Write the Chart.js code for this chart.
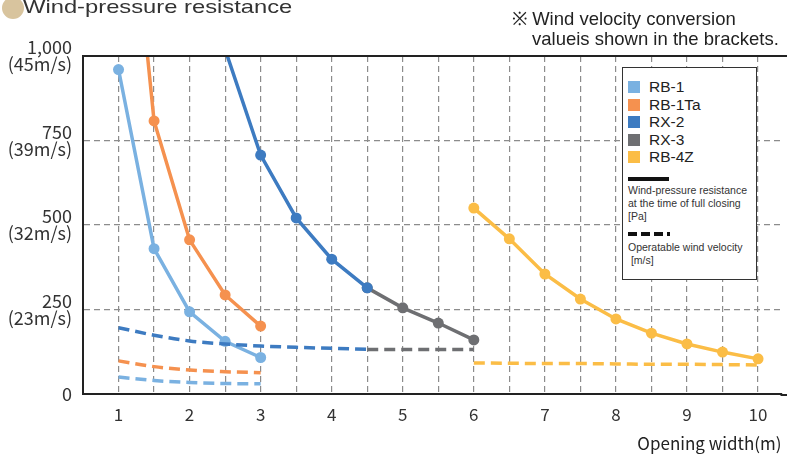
<!DOCTYPE html>
<html>
<head>
<meta charset="utf-8">
<script src="https://cdn.jsdelivr.net/npm/chart.js@4/dist/chart.umd.min.js"></script>
<style>
  body { margin: 0; background: #fff; overflow: hidden; }
  #wrap { position: relative; width: 787px; height: 454px; overflow: hidden; }
  #chart { position: absolute; left: 0; top: 0; }
  .dot { position: absolute; left: 2px; top: -3px; width: 22px; height: 22px; border-radius: 50%; background: #d8c49e; }
  .title { position: absolute; left: 23px; top: -4px; font: 19px "Liberation Sans", Arial, sans-serif; color: #333; white-space: nowrap; transform: scaleX(1.25); transform-origin: left top; }
  .note { position: absolute; font: 18.5px "Liberation Sans", Arial, sans-serif; color: #222; white-space: nowrap; }
  #legend { position: absolute; left: 622px; top: 67px; width: 133px; height: 211px; border: 1px solid #333; background: #fff; font-family: "Liberation Sans", Arial, sans-serif; color: #222; }
  .item { position: absolute; left: 5px; height: 17px; font-size: 15.5px; line-height: 17px; }
  .item span { display: inline-block; width: 12px; height: 12px; margin-right: 9px; vertical-align: -1px; }
  .small { position: absolute; left: 5px; font-size: 10.5px; line-height: 13px; color: #333; }
  .solid { position: absolute; left: 5px; top: 109px; width: 41px; height: 4px; background: #111; }
  .dash { position: absolute; left: 5px; top: 164px; width: 42px; height: 4px; background: repeating-linear-gradient(90deg, #111 0 9px, transparent 9px 13px); }
</style>
</head>
<body>
<div id="wrap">
  <canvas id="chart" width="787" height="454"></canvas>
  <div class="dot"></div>
  <div class="title">Wind-pressure resistance</div>
  <div class="note" style="left:512px; top:5px;">※ Wind velocity conversion</div>
  <div class="note" style="left:532px; top:28px;">valueis shown in the brackets.</div>
  <div id="legend"></div>
</div>
<script>
// opening width (m) and wind-pressure resistance (Pa) / operatable wind velocity line
var rb1Width = [1, 1.5, 2, 2.5, 3];
var rb1Pa = [960, 430, 243, 156, 108];
var rb1Wind = [50, 40, 34, 31, 30];

var rb1TaWidth = [1, 1.5, 2, 2.5, 3];
var rb1TaPa = [1850, 808, 456, 293, 201];
var rb1TaWind = [98, 81, 71, 66, 63];

var rx2Width = [2.5, 3, 3.5, 4, 4.5];
var rx2Pa = [1020, 707, 521, 399, 314];
var rx2WindWidth = [1, 1.5, 2, 2.5, 3, 3.5, 4, 4.5];
var rx2Wind = [196, 174, 157, 148, 142, 138, 135, 132];

var rx3Width = [4.5, 5, 5.5, 6];
var rx3Pa = [314, 255, 210, 160];
var rx3Wind = [132, 132, 132, 132];

var rb4zWidth = [6, 6.5, 7, 7.5, 8, 8.5, 9, 9.5, 10];
var rb4zPa = [550, 459, 355, 281, 222, 180, 148, 124, 104];
var rb4zWind = [92, 91, 90, 90, 89, 88, 88, 87, 86];

var seriesNames = ['RB-1', 'RB-1Ta', 'RX-2', 'RX-3', 'RB-4Z'];
var seriesColors = ['#7ab1e1', '#f5914f', '#3d7bc1', '#6e6f72', '#fbbd46'];

var yTickPa = ['0', '250', '500', '750', '1,000'];
var yTickWind = ['', '(23m/s)', '(32m/s)', '(39m/s)', '(45m/s)'];

function pairs(xs, ys) {
  return xs.map(function(x, i) { return { x: x, y: ys[i] }; });
}

function solidSet(xs, ys, color) {
  return {
    data: pairs(xs, ys),
    borderColor: color,
    backgroundColor: color,
    borderWidth: 3.5,
    pointRadius: 5.5,
    pointBorderWidth: 0,
    tension: 0
  };
}

function dashSet(xs, ys, color) {
  return {
    data: pairs(xs, ys),
    borderColor: color,
    borderWidth: 3.5,
    borderDash: [11, 6],
    pointRadius: 0,
    cubicInterpolationMode: 'monotone'
  };
}

var datasets = [
  dashSet(rb1Width, rb1Wind, seriesColors[0]),
  dashSet(rb1TaWidth, rb1TaWind, seriesColors[1]),
  dashSet(rx2WindWidth, rx2Wind, seriesColors[2]),
  dashSet(rx3Width, rx3Wind, seriesColors[3]),
  dashSet(rb4zWidth, rb4zWind, seriesColors[4]),
  solidSet(rb1Width, rb1Pa, seriesColors[0]),
  solidSet(rb1TaWidth, rb1TaPa, seriesColors[1]),
  solidSet(rx2Width, rx2Pa, seriesColors[2]),
  solidSet(rx3Width, rx3Pa, seriesColors[3]),
  solidSet(rb4zWidth, rb4zPa, seriesColors[4])
];

// top frame line, and bottom line carried on to the page edge
var frameLines = {
  id: 'frameLines',
  afterDraw: function(chart) {
    var ctx = chart.ctx, a = chart.chartArea;
    ctx.save();
    ctx.strokeStyle = '#222';
    ctx.lineWidth = 2;
    ctx.beginPath();
    ctx.moveTo(a.left - 1, a.top);
    ctx.lineTo(a.right + 10, a.top);
    ctx.moveTo(a.right - 1, a.bottom + 1);
    ctx.lineTo(a.right + 10, a.bottom + 1);
    ctx.stroke();
    ctx.restore();
  }
};

var tickFamily = '"Noto Sans CJK JP", "Noto Sans", sans-serif';

new Chart(document.getElementById('chart'), {
  type: 'line',
  data: { datasets: datasets },
  options: {
    responsive: false,
    animation: false,
    layout: { padding: { top: 56, left: 0, right: 0, bottom: 0 } },
    plugins: { legend: { display: false }, tooltip: { enabled: false } },
    scales: {
      x: {
        type: 'linear',
        min: 0.5,
        max: 10.33,
        afterFit: function(s) { s.height = 60; },
        grid: { color: '#8c8c8c', lineWidth: 1.2, drawTicks: false },
        border: { display: true, color: '#222', width: 2, dash: [6, 4] },
        ticks: {
          stepSize: 0.5,
          includeBounds: false,
          autoSkip: false,
          maxRotation: 0,
          padding: 10,
          color: '#333',
          font: { family: tickFamily, size: 17 },
          callback: function(v) { return Number.isInteger(v) ? String(v) : ''; }
        },
        title: {
          display: true,
          text: 'Opening width(m)',
          align: 'end',
          color: '#222',
          font: { family: tickFamily, size: 17 },
          padding: { top: 1, bottom: 0 }
        }
      },
      y: {
        min: 0,
        max: 1000,
        afterFit: function(s) { s.width = 83; },
        grid: { color: '#8c8c8c', lineWidth: 1.2, drawTicks: false },
        border: { display: true, color: '#222', width: 2, dash: [6, 4] },
        ticks: {
          stepSize: 250,
          padding: 11,
          color: '#333',
          font: { family: tickFamily, size: 18, lineHeight: 0.95 },
          callback: function(v) {
            var i = v / 250;
            return yTickWind[i] ? [yTickPa[i], yTickWind[i]] : yTickPa[i];
          }
        }
      }
    }
  },
  plugins: [frameLines]
});

// legend box
var legend = document.getElementById('legend');
var html = '';
seriesNames.forEach(function(name, i) {
  html += '<div class="item" style="top:' + (10 + i * 17.5) + 'px"><span style="background:' + seriesColors[i] + '"></span>' + name + '</div>';
});
html += '<div class="solid"></div>';
html += '<div class="small" style="top:116px">Wind-pressure resistance<br>at the time of full closing<br>[Pa]</div>';
html += '<div class="dash"></div>';
html += '<div class="small" style="top:173px">Operatable wind velocity<br>&nbsp;[m/s]</div>';
legend.innerHTML = html;
</script>
</body>
</html>
